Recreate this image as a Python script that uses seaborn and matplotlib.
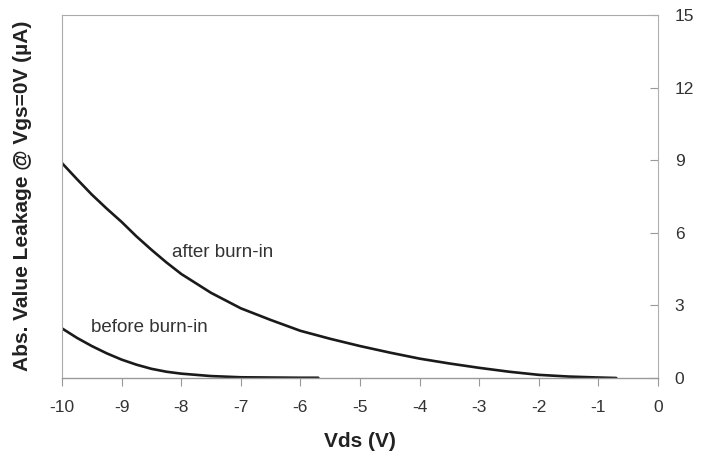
import matplotlib
matplotlib.use("Agg")
import matplotlib.pyplot as plt
import seaborn as sns
import pandas as pd

after_x = [-10, -9.75, -9.5, -9.25, -9, -8.75, -8.5, -8.25, -8, -7.5, -7, -6.5, -6, -5.5, -5,
           -4.5, -4, -3.5, -3, -2.5, -2, -1.5, -1, -0.7]
after_y = [8.88, 8.22, 7.58, 7.0, 6.45, 5.85, 5.3, 4.78, 4.3, 3.52, 2.88, 2.4, 1.95, 1.62, 1.32,
           1.05, 0.8, 0.6, 0.42, 0.26, 0.13, 0.06, 0.02, 0.0]
before_x = [-10, -9.75, -9.5, -9.25, -9, -8.75, -8.5, -8.25, -8, -7.5, -7, -6.5, -6, -5.7]
before_y = [2.05, 1.66, 1.32, 1.02, 0.76, 0.55, 0.38, 0.26, 0.18, 0.08, 0.03, 0.02, 0.01, 0.01]

x_ticks = [-10, -9, -8, -7, -6, -5, -4, -3, -2, -1, 0]
y_ticks = [0, 3, 6, 9, 12, 15]

sns.set_theme(style="white")
plt.rcParams['font.family'] = ['Liberation Sans', 'DejaVu Sans']

df_after = pd.DataFrame({"Vds": after_x, "I": after_y})
df_before = pd.DataFrame({"Vds": before_x, "I": before_y})

fig = plt.figure(figsize=(7.10, 4.58), dpi=100)
ax = fig.add_axes([62/710, 80/458, 596/710, 363/458])

line_kw = dict(color="#1a1a1a", linewidth=1.9, solid_joinstyle='round', solid_capstyle='round')
sns.lineplot(data=df_after, x="Vds", y="I", ax=ax, **line_kw)
sns.lineplot(data=df_before, x="Vds", y="I", ax=ax, **line_kw)

ax.set_xlim(-10, 0)
ax.set_ylim(0, 15)
ax.set_xticks(x_ticks)
ax.set_xticklabels([str(t) for t in x_ticks])
ax.set_yticks(y_ticks)
ax.set_yticklabels([str(t) for t in y_ticks])

ax.yaxis.tick_right()
ax.tick_params(axis='y', which='both', direction='in', length=6, width=0.8, color='#999999',
               labelsize=12.5, labelcolor='#333333', pad=12, left=False, right=True)
ax.tick_params(axis='x', which='both', direction='out', length=6, width=0.8, color='#999999',
               labelsize=12.5, labelcolor='#333333', pad=10, bottom=True)

for side in ['left', 'top', 'right']:
    ax.spines[side].set_visible(True)
    ax.spines[side].set_color('#aaaaaa')
    ax.spines[side].set_linestyle((0, (1, 1)))
    ax.spines[side].set_linewidth(0.8)
ax.spines['right'].set_linestyle('-')
ax.spines['right'].set_color('#b0b0b0')
ax.spines['bottom'].set_color('#999999')
ax.spines['bottom'].set_linewidth(1.0)

ax.set_xlabel("Vds (V)", fontsize=15, fontweight='bold', color='#222222', labelpad=12)
ax.set_ylabel("")
fig.text(23/710, 1 - 196/458, "Abs. Value Leakage @ Vgs=0V (µA)", rotation=90,
         ha='center', va='center', fontsize=15, fontweight='bold', color='#222222')

ax.text(-8.15, 5.17, "after burn-in", fontsize=13.5, color='#333333', va='center', ha='left')
ax.text(-9.52, 2.07, "before burn-in", fontsize=13.5, color='#333333', va='center', ha='left')

fig.savefig("out.png", dpi=100)
